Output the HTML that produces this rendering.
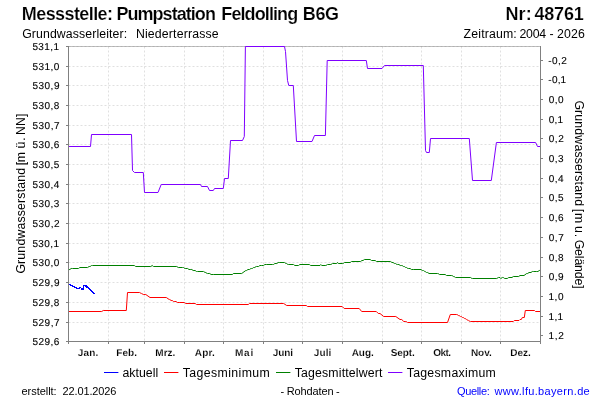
<!DOCTYPE html>
<html lang="de"><head><meta charset="utf-8"><title>Messstelle: Pumpstation Feldolling B6G</title>
<style>
html,body{margin:0;padding:0;background:#fff;}
body{width:600px;height:400px;overflow:hidden;}
svg{display:block;font-family:"Liberation Sans",sans-serif;fill:#000;will-change:transform;}
.grid{stroke:#c0c0c0;stroke-width:0.5;stroke-dasharray:2 2;fill:none;}
.geo{text-rendering:geometricPrecision;}
.axis{stroke:#808080;stroke-width:1;fill:none;}
.ln{fill:none;stroke-width:1;stroke-linejoin:miter;stroke-linecap:butt;}
</style></head><body>
<svg width="600" height="400" viewBox="0 0 600 400">
<rect x="0" y="0" width="600" height="400" fill="#ffffff"/>
<g>
<g stroke="#ffffff" stroke-width="0.18">
<text font-size="18" font-weight="bold" letter-spacing="-0.584" x="21.81" y="20">Messstelle:</text>
<text font-size="18" font-weight="bold" letter-spacing="-0.95" x="116.41" y="20">Pumpstation</text>
<text font-size="18" font-weight="bold" letter-spacing="-0.9" x="221.31" y="20">Feldolling</text>
<text font-size="18" font-weight="bold" letter-spacing="-0.352" x="302.81" y="20">B6G</text>
<text font-size="18" font-weight="bold" letter-spacing="0.112" x="505.51" y="20">Nr:</text>
<text font-size="18" font-weight="bold" letter-spacing="-0.176" x="534.43" y="20">48761</text>
</g>
<text font-size="12.3" letter-spacing="0.101" x="22.19" y="38">Grundwasserleiter:</text>
<text font-size="12.3" letter-spacing="0.16" x="135.89" y="38">Niederterrasse</text>
<text font-size="12.3" letter-spacing="0.145" x="463.62" y="38">Zeitraum:</text>
<text font-size="12.3" letter-spacing="-0.195" x="519.38" y="38">2004</text>
<text font-size="12.3" x="549.46" y="38">-</text>
<text font-size="12.3" letter-spacing="0.163" x="556.88" y="38">2026</text>
</g>
<g class="grid">
<line x1="68.5" y1="46.5" x2="540.5" y2="46.5"/>
<line x1="68.5" y1="66.5" x2="540.5" y2="66.5"/>
<line x1="68.5" y1="85.5" x2="540.5" y2="85.5"/>
<line x1="68.5" y1="105.5" x2="540.5" y2="105.5"/>
<line x1="68.5" y1="125.5" x2="540.5" y2="125.5"/>
<line x1="68.5" y1="144.5" x2="540.5" y2="144.5"/>
<line x1="68.5" y1="164.5" x2="540.5" y2="164.5"/>
<line x1="68.5" y1="184.5" x2="540.5" y2="184.5"/>
<line x1="68.5" y1="203.5" x2="540.5" y2="203.5"/>
<line x1="68.5" y1="223.5" x2="540.5" y2="223.5"/>
<line x1="68.5" y1="243.5" x2="540.5" y2="243.5"/>
<line x1="68.5" y1="262.5" x2="540.5" y2="262.5"/>
<line x1="68.5" y1="282.5" x2="540.5" y2="282.5"/>
<line x1="68.5" y1="302.5" x2="540.5" y2="302.5"/>
<line x1="68.5" y1="322.5" x2="540.5" y2="322.5"/>
<line x1="108.5" y1="46.5" x2="108.5" y2="341.5"/>
<line x1="144.5" y1="46.5" x2="144.5" y2="341.5"/>
<line x1="184.5" y1="46.5" x2="184.5" y2="341.5"/>
<line x1="223.5" y1="46.5" x2="223.5" y2="341.5"/>
<line x1="263.5" y1="46.5" x2="263.5" y2="341.5"/>
<line x1="302.5" y1="46.5" x2="302.5" y2="341.5"/>
<line x1="342.5" y1="46.5" x2="342.5" y2="341.5"/>
<line x1="382.5" y1="46.5" x2="382.5" y2="341.5"/>
<line x1="421.5" y1="46.5" x2="421.5" y2="341.5"/>
<line x1="461.5" y1="46.5" x2="461.5" y2="341.5"/>
<line x1="500.5" y1="46.5" x2="500.5" y2="341.5"/>
</g>
<line x1="68.5" y1="46.5" x2="540.5" y2="46.5" stroke="#808080" stroke-width="0.5"/>
<polyline class="ln" stroke="#7f00ff" points="68.5,146.5 90.5,146.5 91.5,134.5 131.5,134.5 132.5,170.5 134.5,172.5 143.3,172.5 144.5,192.5 158,192.5 161.2,184.5 200.5,184.5 201.5,186.5 207.5,186.5 209.5,190.5 213.3,190.5 214.5,188.5 223.3,188.5 224.5,178.5 228.3,178.5 230.5,140.5 242.5,140.5 244.3,136.5 245.4,46.5 284.5,46.5 285.5,51.5 287.5,80.5 288.8,85.5 293.3,85.5 296.5,141.5 312,141.5 314.5,135.5 325.4,135.5 327.2,60.5 366.3,60.5 367.5,68.5 382,68.5 384.5,65.5 423.3,65.5 425.5,150.5 426.5,152.5 429.3,152.5 430.5,138.5 469.3,138.5 472.5,180.5 491.3,180.5 496.4,142.5 535.6,142.5 537.5,146.5 540.5,146.5"/>
<polyline class="ln" stroke="#008000" points="68.5,269.5 69.85,269.5 71.15,268.5 72.5,268.5 78.3,268.5 78.5,268.5 79.8,267.5 80,267.5 87.5,267.5 87.7,267.5 89,266.5 89.2,266.5 90.2,266.5 91.5,265.5 92.5,265.5 134.2,265.5 134.35,265.5 135.65,266.5 135.8,266.5 150.8,266.5 152.2,265.5 153.5,266.5 176.7,266.5 176.85,266.5 178.15,267.5 178.3,267.5 182.5,267.5 183.5,267.5 184.8,268.5 185.8,268.5 187.65,268.5 188.95,269.5 190.8,269.5 191.83,269.5 193.13,270.5 195.17,270.5 196.47,271.5 197.5,271.5 203.3,271.5 203.7,271.5 205,272.5 205.8,272.5 207.1,273.5 207.5,273.5 209.75,273.5 211.05,274.5 213.3,274.5 232.5,274.5 233.3,273.5 241.7,273.5 245.8,270.5 246.62,270.5 247.93,269.5 249.57,269.5 250.88,268.5 251.7,268.5 252.3,268.5 253.6,267.5 254.8,267.5 256.1,266.5 256.7,266.5 258.55,266.5 259.85,265.5 261.7,265.5 263.55,265.5 264.85,264.5 266.7,264.5 272.5,264.5 273.53,264.5 274.82,263.5 276.88,263.5 278.17,262.5 279.2,262.5 284.2,262.5 284.58,262.5 285.88,263.5 286.62,263.5 287.92,264.5 288.3,264.5 293.3,264.5 293.5,264.5 294.8,265.5 295,265.5 298.3,265.5 298.5,265.5 299.8,264.5 300,264.5 309.2,264.5 309.35,264.5 310.65,265.5 310.8,265.5 320,265.5 320.8,264.5 321.7,265.5 325.8,265.5 326,265.5 327.3,264.5 327.5,264.5 330.8,264.5 331,264.5 332.3,263.5 332.5,263.5 336.7,263.5 337.5,262.5 338.3,263.5 342.5,263.5 343.1,263.5 344.4,262.5 345,262.5 350,262.5 350.2,262.5 351.5,261.5 351.7,261.5 360,261.5 360.6,261.5 361.9,260.5 363.1,260.5 364.4,259.5 365,259.5 370,259.5 370.2,259.5 371.5,260.5 371.7,260.5 375,260.5 375.2,260.5 376.5,261.5 376.7,261.5 390,261.5 390.6,261.5 391.9,262.5 393.1,262.5 394.4,263.5 395.6,263.5 396.9,264.5 397.5,264.5 398.95,264.5 400.25,265.5 401.7,265.5 402.15,265.5 403.45,266.5 404.35,266.5 405.65,267.5 406.55,267.5 407.85,268.5 408.3,268.5 410.15,268.5 411.45,269.5 413.3,269.5 420,269.5 421,269.5 422.3,270.5 423.3,270.5 423.5,270.5 424.8,271.5 425.2,271.5 426.5,272.5 426.7,272.5 427.7,272.5 429,273.5 430,273.5 437.5,273.5 438.1,273.5 439.4,274.5 440,274.5 445,274.5 445.2,274.5 446.5,275.5 446.7,275.5 451.7,275.5 452.08,275.5 453.38,276.5 454.12,276.5 455.42,277.5 455.8,277.5 470,277.5 470.6,277.5 471.9,278.5 472.5,278.5 496.7,278.5 496.9,278.5 498.2,277.5 498.4,277.5 500,277.5 500.7,278.5 500.9,278.5 502.2,277.5 502.4,277.5 503.3,277.5 504.7,278.5 507.3,278.5 508.7,277.5 512,277.5 513.3,276.5 518.7,276.5 520,275.5 524,275.5 526.7,273.5 527.7,273.5 529,272.5 530,272.5 531,272.5 532.3,271.5 533.3,271.5 536.7,271.5 537.95,271.5 539.25,270.5 540.5,270.5"/>
<polyline class="ln" stroke="#ff0000" points="68.5,311.5 101.7,311.5 103.3,310.5 126.3,310.5 127.5,292.5 139.2,292.5 139.8,292.5 141.1,293.5 141.7,293.5 141.85,293.5 143.15,294.5 143.3,294.5 145.8,294.5 150,297.5 166.3,297.5 169.2,299.5 169.8,299.5 171.1,300.5 172.3,300.5 173.6,301.5 174.2,301.5 176.05,301.5 177.35,302.5 179.2,302.5 184.2,302.5 184.35,302.5 185.65,303.5 185.8,303.5 195,303.5 195.2,303.5 196.5,304.5 196.7,304.5 248.3,304.5 249.5,303.5 283.7,303.5 286.7,305.5 306.3,305.5 307.5,306.5 342.2,306.5 344.2,308.5 359.2,308.5 361.7,311.5 376.3,311.5 378.3,313.5 380,313.5 383.7,316.5 395.8,316.5 400,319.5 401.7,319.5 403.8,321.5 405.8,321.5 406.15,321.5 407.45,322.5 407.8,322.5 447.5,322.5 450.3,314.5 456.7,314.5 457.08,314.5 458.38,315.5 459.12,315.5 460.42,316.5 460.8,316.5 461.2,316.5 462.5,317.5 463.3,317.5 464.6,318.5 465,318.5 465.18,318.5 466.47,319.5 466.83,319.5 468.12,320.5 468.3,320.5 468.75,320.5 470.05,321.5 470.5,321.5 513.3,321.5 514.3,320.5 519,320.5 520,319.5 521.3,319.5 522.3,317.5 524.3,317.5 525.3,310.5 534.5,310.5 535.5,311.5 540.5,311.5"/>
<path d="M69 284h2v1h-2zM70 285h3v1h-3zM83 285h4v1h-4zM72 286h3v1h-3zM83 286h1v1h-1zM85 286h3v1h-3zM74 287h3v1h-3zM79 287h2v1h-2zM83 287h1v1h-1zM86 287h3v1h-3zM76 288h4v1h-4zM81 288h3v1h-3zM88 288h2v1h-2zM81 289h3v1h-3zM89 289h2v1h-2zM90 290h2v1h-2zM91 291h2v1h-2zM92 292h2v1h-2zM93 293h2v1h-2z" fill="#0000ff" shape-rendering="crispEdges"/>
<g class="axis">
<line x1="68.5" y1="46" x2="68.5" y2="342"/>
<line x1="540.5" y1="46" x2="540.5" y2="342"/>
<line x1="68" y1="341.5" x2="541" y2="341.5"/>
<line x1="66" y1="46.5" x2="68" y2="46.5"/>
<line x1="66" y1="66.5" x2="68" y2="66.5"/>
<line x1="66" y1="85.5" x2="68" y2="85.5"/>
<line x1="66" y1="105.5" x2="68" y2="105.5"/>
<line x1="66" y1="125.5" x2="68" y2="125.5"/>
<line x1="66" y1="144.5" x2="68" y2="144.5"/>
<line x1="66" y1="164.5" x2="68" y2="164.5"/>
<line x1="66" y1="184.5" x2="68" y2="184.5"/>
<line x1="66" y1="203.5" x2="68" y2="203.5"/>
<line x1="66" y1="223.5" x2="68" y2="223.5"/>
<line x1="66" y1="243.5" x2="68" y2="243.5"/>
<line x1="66" y1="262.5" x2="68" y2="262.5"/>
<line x1="66" y1="282.5" x2="68" y2="282.5"/>
<line x1="66" y1="302.5" x2="68" y2="302.5"/>
<line x1="66" y1="322.5" x2="68" y2="322.5"/>
<line x1="66" y1="341.5" x2="68" y2="341.5"/>
<line x1="541" y1="60.5" x2="543" y2="60.5"/>
<line x1="541" y1="79.5" x2="543" y2="79.5"/>
<line x1="541" y1="99.5" x2="543" y2="99.5"/>
<line x1="541" y1="119.5" x2="543" y2="119.5"/>
<line x1="541" y1="138.5" x2="543" y2="138.5"/>
<line x1="541" y1="158.5" x2="543" y2="158.5"/>
<line x1="541" y1="178.5" x2="543" y2="178.5"/>
<line x1="541" y1="197.5" x2="543" y2="197.5"/>
<line x1="541" y1="217.5" x2="543" y2="217.5"/>
<line x1="541" y1="237.5" x2="543" y2="237.5"/>
<line x1="541" y1="257.5" x2="543" y2="257.5"/>
<line x1="541" y1="276.5" x2="543" y2="276.5"/>
<line x1="541" y1="296.5" x2="543" y2="296.5"/>
<line x1="541" y1="316.5" x2="543" y2="316.5"/>
<line x1="541" y1="335.5" x2="543" y2="335.5"/>
<line x1="68.5" y1="342" x2="68.5" y2="344"/>
<line x1="108.5" y1="342" x2="108.5" y2="344"/>
<line x1="144.5" y1="342" x2="144.5" y2="344"/>
<line x1="184.5" y1="342" x2="184.5" y2="344"/>
<line x1="223.5" y1="342" x2="223.5" y2="344"/>
<line x1="263.5" y1="342" x2="263.5" y2="344"/>
<line x1="302.5" y1="342" x2="302.5" y2="344"/>
<line x1="342.5" y1="342" x2="342.5" y2="344"/>
<line x1="382.5" y1="342" x2="382.5" y2="344"/>
<line x1="421.5" y1="342" x2="421.5" y2="344"/>
<line x1="461.5" y1="342" x2="461.5" y2="344"/>
<line x1="500.5" y1="342" x2="500.5" y2="344"/>
<line x1="540.5" y1="342" x2="540.5" y2="344"/>
</g>
<g class="geo" stroke="#000000" stroke-width="0.12">
<text font-size="10" letter-spacing="0.39" x="32.4" y="50">531,1</text>
<text font-size="10" letter-spacing="0.49" x="32.4" y="70">531,0</text>
<text font-size="10" letter-spacing="0.513" x="32.4" y="89">530,9</text>
<text font-size="10" letter-spacing="0.503" x="32.4" y="109">530,8</text>
<text font-size="10" letter-spacing="0.52" x="32.4" y="129">530,7</text>
<text font-size="10" letter-spacing="0.503" x="32.4" y="148">530,6</text>
<text font-size="10" letter-spacing="0.498" x="32.4" y="168">530,5</text>
<text font-size="10" letter-spacing="0.468" x="32.4" y="188">530,4</text>
<text font-size="10" letter-spacing="0.503" x="32.4" y="207">530,3</text>
<text font-size="10" letter-spacing="0.52" x="32.4" y="227">530,2</text>
<text font-size="10" letter-spacing="0.39" x="32.4" y="247">530,1</text>
<text font-size="10" letter-spacing="0.49" x="32.4" y="266">530,0</text>
<text font-size="10" letter-spacing="0.513" x="32.4" y="286">529,9</text>
<text font-size="10" letter-spacing="0.503" x="32.4" y="306">529,8</text>
<text font-size="10" letter-spacing="0.52" x="32.4" y="326">529,7</text>
<text font-size="10" letter-spacing="0.503" x="32.4" y="345">529,6</text>
</g>
<g class="geo" stroke="#000000" stroke-width="0.12">
<text font-size="10" letter-spacing="0.37" x="548.36" y="64">-0,2</text>
<text font-size="10" letter-spacing="0.197" x="548.36" y="83">-0,1</text>
<text font-size="10" letter-spacing="0.435" x="548.81" y="103">0,0</text>
<text font-size="10" letter-spacing="0.235" x="548.81" y="123">0,1</text>
<text font-size="10" letter-spacing="0.495" x="548.81" y="142">0,2</text>
<text font-size="10" letter-spacing="0.46" x="548.81" y="162">0,3</text>
<text font-size="10" letter-spacing="0.39" x="548.81" y="182">0,4</text>
<text font-size="10" letter-spacing="0.45" x="548.81" y="201">0,5</text>
<text font-size="10" letter-spacing="0.46" x="548.81" y="221">0,6</text>
<text font-size="10" letter-spacing="0.495" x="548.81" y="241">0,7</text>
<text font-size="10" letter-spacing="0.46" x="548.81" y="261">0,8</text>
<text font-size="10" letter-spacing="0.48" x="548.81" y="280">0,9</text>
<text font-size="10" letter-spacing="0.62" x="548.44" y="300">1,0</text>
<text font-size="10" letter-spacing="0.42" x="548.44" y="320">1,1</text>
<text font-size="10" letter-spacing="0.68" x="548.44" y="339">1,2</text>
</g>
<g class="geo" stroke="#ffffff" stroke-width="0.15">
<text font-size="10" font-weight="bold" letter-spacing="0.143" x="77.85" y="356">Jan.</text>
<text font-size="10" font-weight="bold" letter-spacing="0.063" x="116.34" y="356">Feb.</text>
<text font-size="10" font-weight="bold" letter-spacing="-0.017" x="155.34" y="356">Mrz.</text>
<text font-size="10" font-weight="bold" letter-spacing="0.16" x="194.76" y="356">Apr.</text>
<text font-size="10" font-weight="bold" letter-spacing="0.845" x="234.94" y="356">Mai</text>
<text font-size="10" font-weight="bold" letter-spacing="-0.103" x="272.85" y="356">Juni</text>
<text font-size="10" font-weight="bold" letter-spacing="0.073" x="313.85" y="356">Juli</text>
<text font-size="10" font-weight="bold" letter-spacing="-0.097" x="351.76" y="356">Aug.</text>
<text font-size="10" font-weight="bold" letter-spacing="-0.12" x="390.72" y="356">Sept.</text>
<text font-size="10" font-weight="bold" letter-spacing="-0.517" x="433.19" y="356">Okt.</text>
<text font-size="10" font-weight="bold" letter-spacing="-0.06" x="470.94" y="356">Nov.</text>
<text font-size="10" font-weight="bold" letter-spacing="-0.07" x="510.34" y="356">Dez.</text>
</g>
<text font-size="12.3" letter-spacing="0.165" transform="translate(24.7,273.62) rotate(-90)">Grundwasserstand</text>
<text font-size="12.3" letter-spacing="-0.192" transform="translate(24.7,165.37) rotate(-90)">[m</text>
<text font-size="12.3" letter-spacing="0.985" transform="translate(24.7,148.62) rotate(-90)">ü.</text>
<text font-size="12.3" letter-spacing="0.101" transform="translate(24.7,135.01) rotate(-90)">NN]</text>
<text font-size="12.3" letter-spacing="0.158" transform="translate(575,100.39) rotate(90)">Grundwasserstand</text>
<text font-size="12.3" letter-spacing="0.808" transform="translate(575,208.83) rotate(90)">[m</text>
<text font-size="12.3" letter-spacing="0.948" transform="translate(575,225.91) rotate(90)">u.</text>
<text font-size="12.3" letter-spacing="-0.148" transform="translate(575,239.69) rotate(90)">Gelände]</text>
<g>
<line x1="104" y1="372.5" x2="118.4" y2="372.5" stroke="#0000ff" stroke-width="1"/>
<line x1="164" y1="372.5" x2="178.4" y2="372.5" stroke="#ff0000" stroke-width="1"/>
<line x1="276" y1="372.5" x2="290.4" y2="372.5" stroke="#008000" stroke-width="1"/>
<line x1="388" y1="372.5" x2="402.4" y2="372.5" stroke="#7f00ff" stroke-width="1"/>
<text font-size="12.3" letter-spacing="0.03" x="122.48" y="377">aktuell</text>
<text font-size="12.3" letter-spacing="0.397" x="182.73" y="377">Tagesminimum</text>
<text font-size="12.3" letter-spacing="0.165" x="294.73" y="377">Tagesmittelwert</text>
<text font-size="12.3" letter-spacing="0.268" x="406.73" y="377">Tagesmaximum</text>
</g>
<g>
<text font-size="11" letter-spacing="-0.049" x="21.54" y="395">erstellt:</text>
<text font-size="11" letter-spacing="-0.115" x="62.45" y="395">22.01.2026</text>
<text font-size="11" x="280.52" y="395">-</text>
<text font-size="11" letter-spacing="-0.1" x="286.7" y="395">Rohdaten</text>
<text font-size="11" x="336.12" y="395">-</text>
<text font-size="11" letter-spacing="-0.348" fill="#0000ff" x="456.98" y="395">Quelle:</text>
<text font-size="11" letter-spacing="0.333" fill="#0000ff" x="494.5" y="395">www.lfu.bayern.de</text>
</g>
</svg>
</body></html>
